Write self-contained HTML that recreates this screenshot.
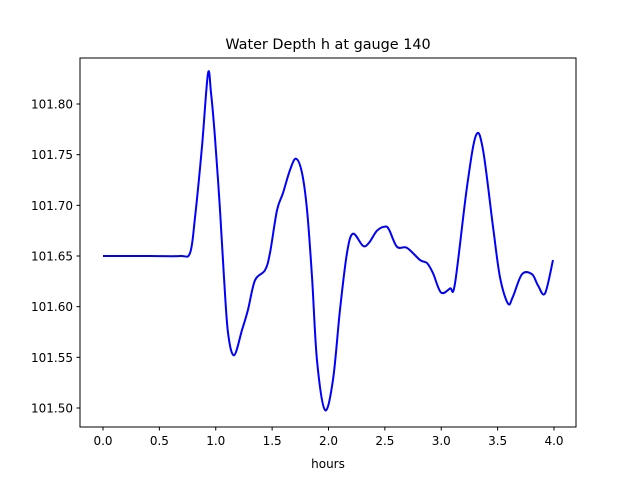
<!DOCTYPE html>
<html><head><meta charset="utf-8"><style>
body{margin:0;background:#fff}
svg text{font-family:"DejaVu Sans","Liberation Sans",sans-serif;fill:#000}
</style></head><body>
<svg id="chart" width="640" height="480" viewBox="0 0 640 480" xmlns="http://www.w3.org/2000/svg">
<rect width="640" height="480" fill="#fff"/>
<text x="328" y="49" font-size="14.4" text-anchor="middle">Water Depth h at gauge 140</text>
<text x="328" y="468" font-size="12" text-anchor="middle">hours</text>
<g id="ticks"></g>
<path id="line" fill="none" stroke="#0000ff" stroke-width="2"/>
<rect x="80" y="58" width="496" height="369" fill="none" stroke="#000" stroke-width="1"/>
</svg>
<script>
const hours=[0,0.417,0.683,0.772,0.816,0.878,0.931,0.958,0.993,1.038,1.073,1.109,1.162,1.233,1.286,1.348,1.437,1.481,1.543,1.596,1.659,1.712,1.765,1.810,1.854,1.898,1.969,2.040,2.102,2.164,2.217,2.306,2.359,2.430,2.501,2.537,2.608,2.696,2.812,2.874,2.927,2.998,3.078,3.122,3.228,3.308,3.370,3.459,3.521,3.592,3.636,3.716,3.805,3.858,3.920,3.991];
const depth=[101.650,101.650,101.650,101.653,101.688,101.758,101.830,101.811,101.767,101.695,101.629,101.574,101.552,101.577,101.597,101.626,101.636,101.653,101.695,101.712,101.735,101.746,101.732,101.695,101.629,101.547,101.498,101.528,101.597,101.653,101.672,101.660,101.663,101.675,101.679,101.676,101.659,101.658,101.646,101.643,101.633,101.614,101.618,101.623,101.718,101.769,101.755,101.679,101.629,101.603,101.610,101.632,101.632,101.621,101.613,101.646];
const xTicks=["0.0","0.5","1.0","1.5","2.0","2.5","3.0","3.5","4.0"];
const yTicks=["101.50","101.55","101.60","101.65","101.70","101.75","101.80"];
const xs=h=>103+h*112.75;
const ys=v=>104+(101.80-v)*1013.3;
const NS="http://www.w3.org/2000/svg";
const g=document.getElementById('ticks');
xTicks.forEach(t=>{
  const x=xs(parseFloat(t));
  const l=document.createElementNS(NS,'line');
  l.setAttribute('x1',x);l.setAttribute('x2',x);l.setAttribute('y1',427);l.setAttribute('y2',430.5);l.setAttribute('stroke','#000');
  
  
  g.appendChild(l);
  const tx=document.createElementNS(NS,'text');
  tx.setAttribute('x',x);tx.setAttribute('y',445);tx.setAttribute('font-size','12');tx.setAttribute('text-anchor','middle');
  tx.textContent=t;
  
  
  g.appendChild(tx);
});
yTicks.forEach(t=>{
  const y=ys(parseFloat(t));
  const l=document.createElementNS(NS,'line');
  l.setAttribute('x1',76.5);l.setAttribute('x2',80);l.setAttribute('y1',y);l.setAttribute('y2',y);l.setAttribute('stroke','#000');
  
  
  g.appendChild(l);
  const tx=document.createElementNS(NS,'text');
  tx.setAttribute('x',73);tx.setAttribute('y',y+4.5);tx.setAttribute('font-size','12');tx.setAttribute('text-anchor','end');
  tx.textContent=t;
  
  
  g.appendChild(tx);
});
const P=hours.map((h,i)=>[xs(h),ys(depth[i])]);
let d='M'+P[0][0]+','+P[0][1];
for(let i=0;i<P.length-1;i++){
  const p0=P[Math.max(0,i-1)],p1=P[i],p2=P[i+1],p3=P[Math.min(P.length-1,i+2)];
  const c1=[p1[0]+(p2[0]-p0[0])/6,p1[1]+(p2[1]-p0[1])/6];
  const c2=[p2[0]-(p3[0]-p1[0])/6,p2[1]-(p3[1]-p1[1])/6];
  d+=`C${c1[0]},${c1[1]} ${c2[0]},${c2[1]} ${p2[0]},${p2[1]}`;
}
document.getElementById('line').setAttribute('d',d);
</script>
</body></html>
